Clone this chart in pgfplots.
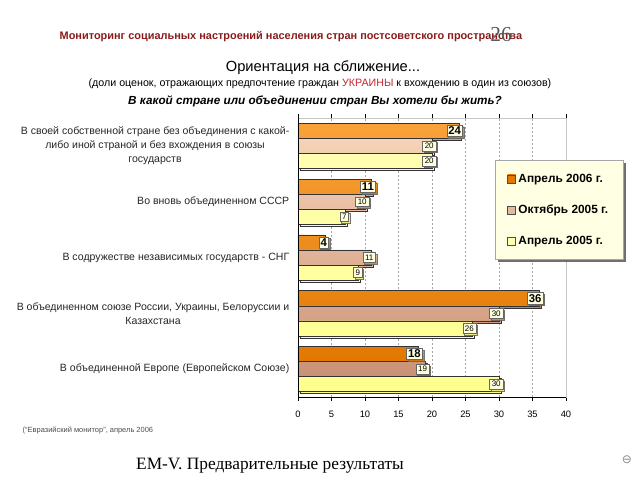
\documentclass[border=0pt]{standalone}
\usepackage{pgfplots}
\pgfplotsset{compat=1.18}
\usetikzlibrary{shadows}
\usepackage{fontspec}
\setmainfont{Liberation Sans}
\newfontfamily\seriffont{Liberation Serif}
\newfontfamily\dejavu{DejaVu Sans}
\definecolor{titlered}{HTML}{8B1A1A}
\definecolor{ukrred}{HTML}{C0282D}
\definecolor{orA}{HTML}{F9A23A}
\definecolor{orB}{HTML}{E27800}
\definecolor{tanA}{HTML}{F6D3B8}
\definecolor{tanB}{HTML}{C99276}
\definecolor{yelA}{HTML}{FFFFB0}
\definecolor{yelB}{HTML}{FFFF8E}
\definecolor{labelbg}{HTML}{FFFFE0}
\definecolor{legendbg}{HTML}{FFFFE3}
\makeatletter
\tikzset{no preactions/.code={\let\tikz@preactions\pgfutil@empty}}
\makeatother
\begin{document}
\begin{tikzpicture}
\path[use as bounding box] (0pt,0pt) rectangle (480pt,-360pt);
\begin{scope}[x=0.75pt,y=-0.75pt]
% header texts
\node[anchor=west, text=titlered, font=\bfseries\fontsize{8.2}{10}\selectfont] at (55,37) {Мониторинг социальных настроений населения стран постсоветского пространства};
\node[text=black!65, font=\seriffont\fontsize{16}{18}\selectfont] at (501,35) {26};
\node[font=\fontsize{11}{13}\selectfont] at (323,68) {Ориентация на сближение...};
\node[font=\fontsize{8}{10}\selectfont] at (320,84) {(доли оценок, отражающих предпочтение граждан \textcolor{ukrred}{УКРАИНЫ} к вхождению в один из союзов)};
\node[font=\bfseries\itshape\fontsize{8.8}{11}\selectfont] at (315,101) {В какой стране или объединении стран Вы хотели бы жить?};
\node[anchor=west, text=black!70, font=\fontsize{5.6}{7}\selectfont] at (18,430) {(“Евразийский монитор”, апрель 2006};
\node[font=\seriffont\fontsize{13}{15}\selectfont] at (270,466) {EM-V. Предварительные результаты};
\node[text=black!45, font=\dejavu\fontsize{9}{10}\selectfont] at (627,460) {⊖};
\end{scope}
\begin{axis}[
  at={(223.5pt,-297.75pt)}, anchor=south west,
  scale only axis, width=201pt, height=209.25pt,
  xbar, xmin=0, xmax=40, ymin=-0.5, ymax=4.5,
  bar width=0.27,
  axis line style={draw=gray!45},
  xmajorgrids, major grid style={draw=gray!70, dash pattern=on 1.5pt off 1.5pt},
  xtick={0,5,...,40},
  tick align=outside,
  major tick length=3pt,
  tick style={black, line width=0.5pt},
  xticklabel style={font=\fontsize{7}{8}\selectfont, yshift=-4pt},
  /pgf/number format/assume math mode=true,
  ytick={0,1,2,3,4},
  yticklabels={
    В объединенной Европе (Европейском Союзе),
    {В объединенном союзе России, Украины, Белоруссии и\\Казахстана},
    В содружестве независимых государств - СНГ,
    Во вновь объединенном СССР,
    {В своей собственной стране без объединения с какой-\\либо иной страной и без вхождения в союзы\\государств}},
  yticklabel style={align=center, font=\fontsize{7.9}{10.5}\selectfont, text=black!85},
  y tick style={draw=none},
  extra y ticks={-0.5,0.5,1.5,2.5,3.5,4.5},
  extra y tick labels={},
  extra y tick style={tick style={black, draw=black}, major tick length=3pt},
  nodes near coords,
  nodes near coords align={horizontal},
  every node near coord/.append style={anchor=east, xshift=3pt, fill=labelbg, draw=black!60, line width=0.3pt, text=black, inner sep=1.6pt,
     drop shadow={shadow xshift=1.2pt, shadow yshift=-1.2pt, opacity=0.9, fill=black!80}},
  legend style={at={(0.735,0.849)}, anchor=north west, draw=gray!70, fill=legendbg,
     font=\bfseries\fontsize{8.9}{10}\selectfont, row sep=11.5pt, inner xsep=9pt, inner ysep=8pt,
     drop shadow={shadow xshift=2pt, shadow yshift=-2pt, opacity=0.8, fill=black!70}},
  legend cell align=left,
  clip=false,
]
\addplot[draw=black!80, line width=0.4pt, top color=orA, bottom color=orB, bar shift=0.27,
  drop shadow={shadow xshift=1.5pt, shadow yshift=-1.5pt, opacity=1, fill=black},
  every node near coord/.append style={font=\bfseries\fontsize{8.5}{9}\selectfont, inner sep=1.2pt},
  legend image code/.code={\path[no preactions, top color=orB, bottom color=orB, draw=black!70, line width=0.4pt] (0pt,-3pt) rectangle (6pt,3pt);}]
  coordinates {(18,0) (36,1) (4,2) (11,3) (24,4)};
\addplot[draw=black!80, line width=0.4pt, top color=tanA, bottom color=tanB, bar shift=0,
  drop shadow={shadow xshift=1.5pt, shadow yshift=-1.5pt, opacity=1, fill=black},
  every node near coord/.append style={font=\fontsize{6}{7}\selectfont},
  legend image code/.code={\path[no preactions, top color=tanA!60!tanB, bottom color=tanA!60!tanB, draw=black!70, line width=0.4pt] (0pt,-3pt) rectangle (6pt,3pt);}]
  coordinates {(19,0) (30,1) (11,2) (10,3) (20,4)};
\addplot[draw=black!80, line width=0.4pt, top color=yelA, bottom color=yelB, bar shift=-0.27,
  drop shadow={shadow xshift=1.5pt, shadow yshift=-1.5pt, opacity=1, fill=black},
  every node near coord/.append style={font=\fontsize{6}{7}\selectfont},
  legend image code/.code={\path[no preactions, top color=yelA, bottom color=yelA, draw=black!70, line width=0.4pt] (0pt,-3pt) rectangle (6pt,3pt);}]
  coordinates {(30,0) (26,1) (9,2) (7,3) (20,4)};
\legend{Апрель 2006 г., Октябрь 2005 г., Апрель 2005 г.}
\draw[black, line width=0.6pt] (axis description cs:0,1) -- (axis description cs:0,0) -- (axis description cs:1,0);
\end{axis}
\end{tikzpicture}
\end{document}
